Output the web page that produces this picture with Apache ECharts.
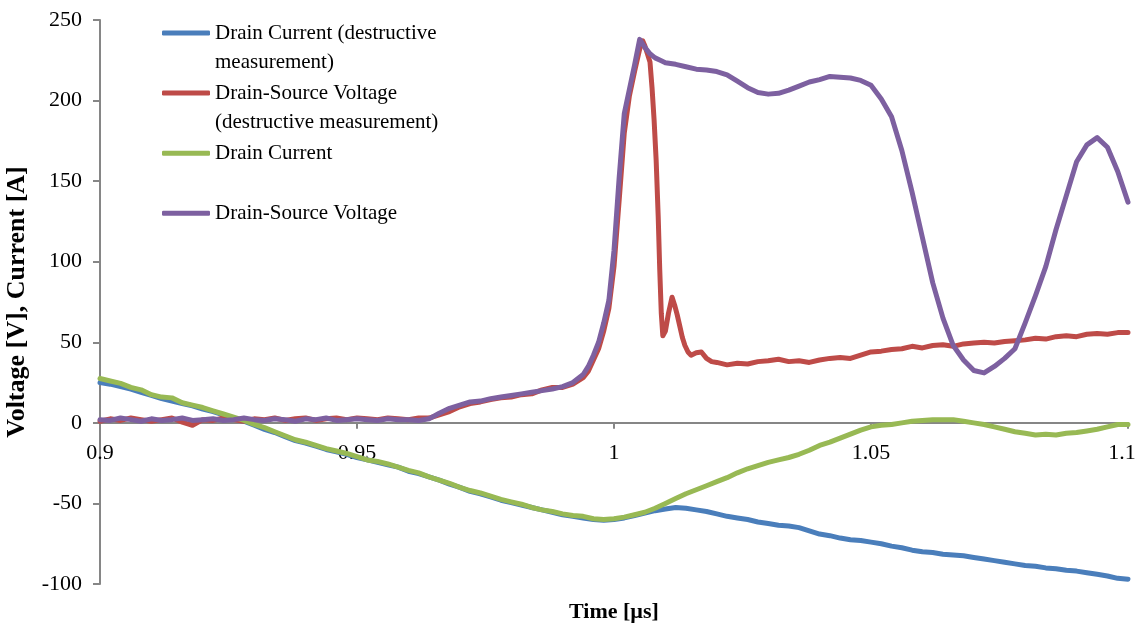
<!DOCTYPE html>
<html><head><meta charset="utf-8">
<script src="https://cdn.jsdelivr.net/npm/echarts@6/dist/echarts.min.js"></script>
<style>html,body{margin:0;padding:0;background:#fff}#c{width:1139px;height:625px}</style>
</head><body><div id="c"></div>
<script>
// ---------- data ----------
const seriesNames = [
  'Drain Current (destructive measurement)',
  'Drain-Source Voltage (destructive measurement)',
  'Drain Current',
  'Drain-Source Voltage'
];
const legendLabels = [
  '\nDrain Current (destructive\nmeasurement)',
  '\nDrain-Source Voltage\n(destructive measurement)',
  'Drain Current',
  'Drain-Source Voltage'
];
const xTickLabels = ['0.9', '0.95', '1', '1.05', '1.1'];

// time [us] for the current traces
const timeCurrent = [
  0.900,0.902,0.904,0.906,0.908,0.910,0.912,0.914,0.916,0.918,
  0.920,0.922,0.924,0.926,0.928,0.930,0.932,0.934,0.936,0.938,
  0.940,0.942,0.944,0.946,0.948,0.950,0.952,0.954,0.956,0.958,
  0.960,0.962,0.964,0.966,0.968,0.970,0.972,0.974,0.976,0.978,
  0.980,0.982,0.984,0.986,0.988,0.990,0.992,0.994,0.996,0.998,
  1.000,1.002,1.004,1.006,1.008,1.010,1.012,1.014,1.016,1.018,
  1.020,1.022,1.024,1.026,1.028,1.030,1.032,1.034,1.036,1.038,
  1.040,1.042,1.044,1.046,1.048,1.050,1.052,1.054,1.056,1.058,
  1.060,1.062,1.064,1.066,1.068,1.070,1.072,1.074,1.076,1.078,
  1.080,1.082,1.084,1.086,1.088,1.090,1.092,1.094,1.096,1.098,
  1.100
];
// Drain Current (destructive measurement) [A]
const drainCurrentDestructive = [
  25,24,22.5,21,19,17,15,13.5,12,10.5,
  8.5,7,5,3,1,-1.5,-4,-6,-8.5,-11,
  -12.5,-14.5,-16.5,-18,-19.5,-21.5,-23,-24.5,-26,-27.5,
  -30,-31.5,-33.5,-35.5,-38,-40,-42.5,-44,-46,-48,
  -49.5,-51,-52.5,-54,-55.5,-57,-58,-59,-60,-60.5,
  -60,-59,-57.5,-56,-54.5,-53.5,-52.5,-53,-54,-55,
  -56.5,-58,-59,-60,-61.5,-62.5,-63.5,-64,-65,-67,
  -69,-70,-71.5,-72.5,-73,-74,-75,-76.5,-77.5,-79,
  -80,-80.5,-81.5,-82,-82.5,-83.5,-84.5,-85.5,-86.5,-87.5,
  -88.5,-89,-90,-90.5,-91.5,-92,-93,-94,-95,-96.5,
  -97
];
// Drain Current [A]
const drainCurrent = [
  27.5,26,24.5,22,20.5,17.5,16,15.5,12.5,11,
  9.5,7.5,5.5,3.5,1.5,-1,-3,-5.5,-8,-10.5,
  -12,-14,-16,-17.5,-19,-21,-23,-24,-25.5,-27.5,
  -29.5,-31,-33.5,-35.5,-37.5,-40,-42,-43.5,-45.5,-47.5,
  -49,-50.5,-52.5,-54,-55,-56.5,-57.5,-58,-59.5,-60,
  -59.5,-58.5,-57,-55.5,-53,-50,-47,-44,-41.5,-39,
  -36.5,-34,-31,-28.5,-26.5,-24.5,-23,-21.5,-19.5,-17,
  -14,-12,-9.5,-7,-4.5,-2.5,-1.5,-1,0,1,
  1.5,2,2,2,1,0,-1,-2.5,-4,-5.5,
  -6.5,-7.5,-7,-7.5,-6.5,-6,-5,-4,-2.5,-1,
  -1
];

// time [us] for Drain-Source Voltage
const timeVoltage = [
  0.900,0.902,0.904,0.906,0.908,0.910,0.912,0.914,0.916,0.918,
  0.920,0.922,0.924,0.926,0.928,0.930,0.932,0.934,0.936,0.938,
  0.940,0.942,0.944,0.946,0.948,0.950,0.952,0.954,0.956,0.958,
  0.960,0.962,0.964,0.966,0.968,0.970,0.972,0.974,0.976,0.978,
  0.980,0.982,0.984,0.986,0.988,0.990,0.992,0.994,
  0.995,0.996,0.997,0.998,0.999,1.000,1.001,1.002,1.003,1.004,1.005,1.006,1.007,1.008,1.009,1.010,
  1.012,1.014,1.016,1.018,1.020,1.022,1.024,1.026,1.028,1.030,
  1.032,1.034,1.036,1.038,1.040,1.042,1.044,1.046,1.048,1.050,
  1.052,1.054,1.056,1.058,1.060,1.062,1.064,1.066,1.068,1.070,
  1.072,1.074,1.076,1.078,1.080,1.082,1.084,1.086,1.088,1.090,
  1.092,1.094,1.096,1.098,1.100
];
// Drain-Source Voltage [V]
const drainSourceVoltage = [
  2,1.5,3,2,1,2.5,1.5,2,3,1.5,
  2,2.5,1.5,2,3,2,1.5,2.5,2,1,
  2.5,2,3,1.5,2,2.5,2,1.5,2.5,2,
  2,1.5,2.5,6,9,11,13,13.5,15,16,
  17,18,19,20,21,22.5,25,30,
  35,42,50,62,76,107,152,192,207,222,238,233,229,226.5,225,223.5,
  222.5,221,219.5,219,218,216,212,208,205,204,
  204.5,206.5,209,211.5,213,215,214.5,214,212.5,209.5,
  201,190,169,143,115,87,65,48,39,32.5,
  31,35,40,46,62,79,97,120,141,162,
  172.5,177,171,156,137
];

// time [us] for Drain-Source Voltage (destructive measurement)
const timeVoltageDestructive = [
  0.900,0.902,0.904,0.906,0.908,0.910,0.912,0.914,0.916,0.918,
  0.920,0.922,0.924,0.926,0.928,0.930,0.932,0.934,0.936,0.938,
  0.940,0.942,0.944,0.946,0.948,0.950,0.952,0.954,0.956,0.958,
  0.960,0.962,0.964,0.966,0.968,0.970,0.972,0.974,0.976,0.978,
  0.980,0.982,0.984,0.986,0.988,0.990,0.992,0.994,
  0.995,0.996,0.997,0.998,0.999,1.000,1.001,1.002,1.003,1.004,1.005,
  1.0056,1.006,1.0065,1.007,1.0074,1.0078,1.0082,1.0086,1.0089,1.0092,
  1.0095,1.0100,1.0106,1.0113,1.0118,1.0123,1.0128,1.0133,1.0138,1.0144,
  1.015,1.016,1.017,1.018,1.019,1.020,
  1.022,1.024,1.026,1.028,1.030,1.032,1.034,1.036,1.038,1.040,
  1.042,1.044,1.046,1.048,1.050,1.052,1.054,1.056,1.058,1.060,
  1.062,1.064,1.066,1.068,1.070,1.072,1.074,1.076,1.078,1.080,
  1.082,1.084,1.086,1.088,1.090,1.092,1.094,1.096,1.098,1.100
];
// Drain-Source Voltage (destructive measurement) [V]
const drainSourceVoltageDestructive = [
  1,2.5,1.5,3,2,1,2,3,0.5,-1.5,
  2,1.5,3,2,1,2.5,2,3,1.5,2.5,
  3,1.5,2.5,3,2,3,2.5,2,3,2.5,
  2,3,3,5,7,10,12,13,14.5,15.5,
  16,17.5,18,20.5,22,22,24,28,
  32,39,46,57,71,97,138,180,203,218,232,
  237,234,229,224,208,188,163,128,95,68,
  54,57,68,78,73,67,60,53,48,44,
  42,43.5,44,40,38,37.5,
  36,37,36.5,38,38.5,39.5,38,38.5,37.5,39,
  40,40.5,40,42,44,44.5,45.5,46,47.5,46.5,
  48,48.5,47.5,49,49.5,50,49.5,50.5,51,51.5,
  52.5,52,53.5,54,53.5,55,55.5,55,56,56
];

const colors = ['#4a7ebb', '#be4b48', '#98b954', '#7d60a0'];

// ---------- chart ----------
const zip = (t, v) => t.map((x, i) => [x, v[i]]);
const serifFont = 'Liberation Serif';
const axisGrey = '#868686';
const gridTop = 20, gridBottom = 41, chartH = 625;
const yMin = -100, yMax = 250;
// move the x axis (line, ticks, labels, name) up to the y = 0 level
const plotH = chartH - gridTop - gridBottom;
const zeroOffset = -plotH * (0 - yMin) / (yMax - yMin);

function mkSeries(idx, t, v) {
  return {
    name: seriesNames[idx], type: 'line', showSymbol: false, symbol: 'none',
    data: zip(t, v), color: colors[idx],
    lineStyle: { width: 5, color: colors[idx], cap: 'round', join: 'round' },
    emphasis: { disabled: true }, z: 2 + idx
  };
}
function mkLegend(idx, top) {
  return {
    data: [seriesNames[idx]], orient: 'vertical', left: 162, top: top, padding: 0,
    itemWidth: 48, itemHeight: 5, icon: 'roundRect',
    formatter: () => legendLabels[idx],
    textStyle: { fontFamily: serifFont, fontSize: 21, color: '#000', lineHeight: 29 }
  };
}

const chart = echarts.init(document.getElementById('c'), null, { renderer: 'canvas' });
chart.setOption({
  animation: false,
  backgroundColor: '#fff',
  grid: { left: 100, right: 11, top: gridTop, bottom: gridBottom, containLabel: false, outerBoundsMode: 'none' },
  legend: [mkLegend(0, -10.5), mkLegend(1, 49.5), mkLegend(2, 138.8), mkLegend(3, 198.8)],
  xAxis: {
    type: 'value', min: 0.9, max: 1.1, interval: 0.05,
    position: 'bottom', offset: zeroOffset,
    name: 'Time [µs]', nameLocation: 'middle', nameGap: 178,
    nameTextStyle: { fontFamily: serifFont, fontSize: 22, fontWeight: 'bold', color: '#000' },
    axisLine: { onZero: false, lineStyle: { color: axisGrey, width: 2 } },
    axisTick: { show: true, inside: false, length: 6, lineStyle: { color: axisGrey, width: 2 } },
    splitLine: { show: false },
    axisLabel: {
      show: true, showMinLabel: true, showMaxLabel: true, margin: 19,
      fontFamily: serifFont, fontSize: 22, color: '#000',
      formatter: (v) => {
        const s = xTickLabels[Math.round((v - 0.9) / 0.05)];
        return v > 1.099 ? '{end|' + s + '}' : s;
      },
      rich: { end: { fontFamily: serifFont, fontSize: 22, color: '#000', padding: [0, 12, 0, 0] } }
    }
  },
  yAxis: {
    type: 'value', min: yMin, max: yMax, interval: 50,
    name: 'Voltage [V], Current [A]', nameLocation: 'middle', nameGap: 57,
    nameTextStyle: { fontFamily: serifFont, fontSize: 26, fontWeight: 'bold', color: '#000' },
    axisLine: { show: true, lineStyle: { color: axisGrey, width: 2 } },
    axisTick: { show: true, inside: false, length: 7, lineStyle: { color: axisGrey, width: 2 } },
    splitLine: { show: false },
    axisLabel: { margin: 18, fontFamily: serifFont, fontSize: 22, color: '#000' }
  },
  series: [
    mkSeries(0, timeCurrent, drainCurrentDestructive),
    mkSeries(1, timeVoltageDestructive, drainSourceVoltageDestructive),
    mkSeries(2, timeCurrent, drainCurrent),
    mkSeries(3, timeVoltage, drainSourceVoltage)
  ]
});
</script></body></html>
